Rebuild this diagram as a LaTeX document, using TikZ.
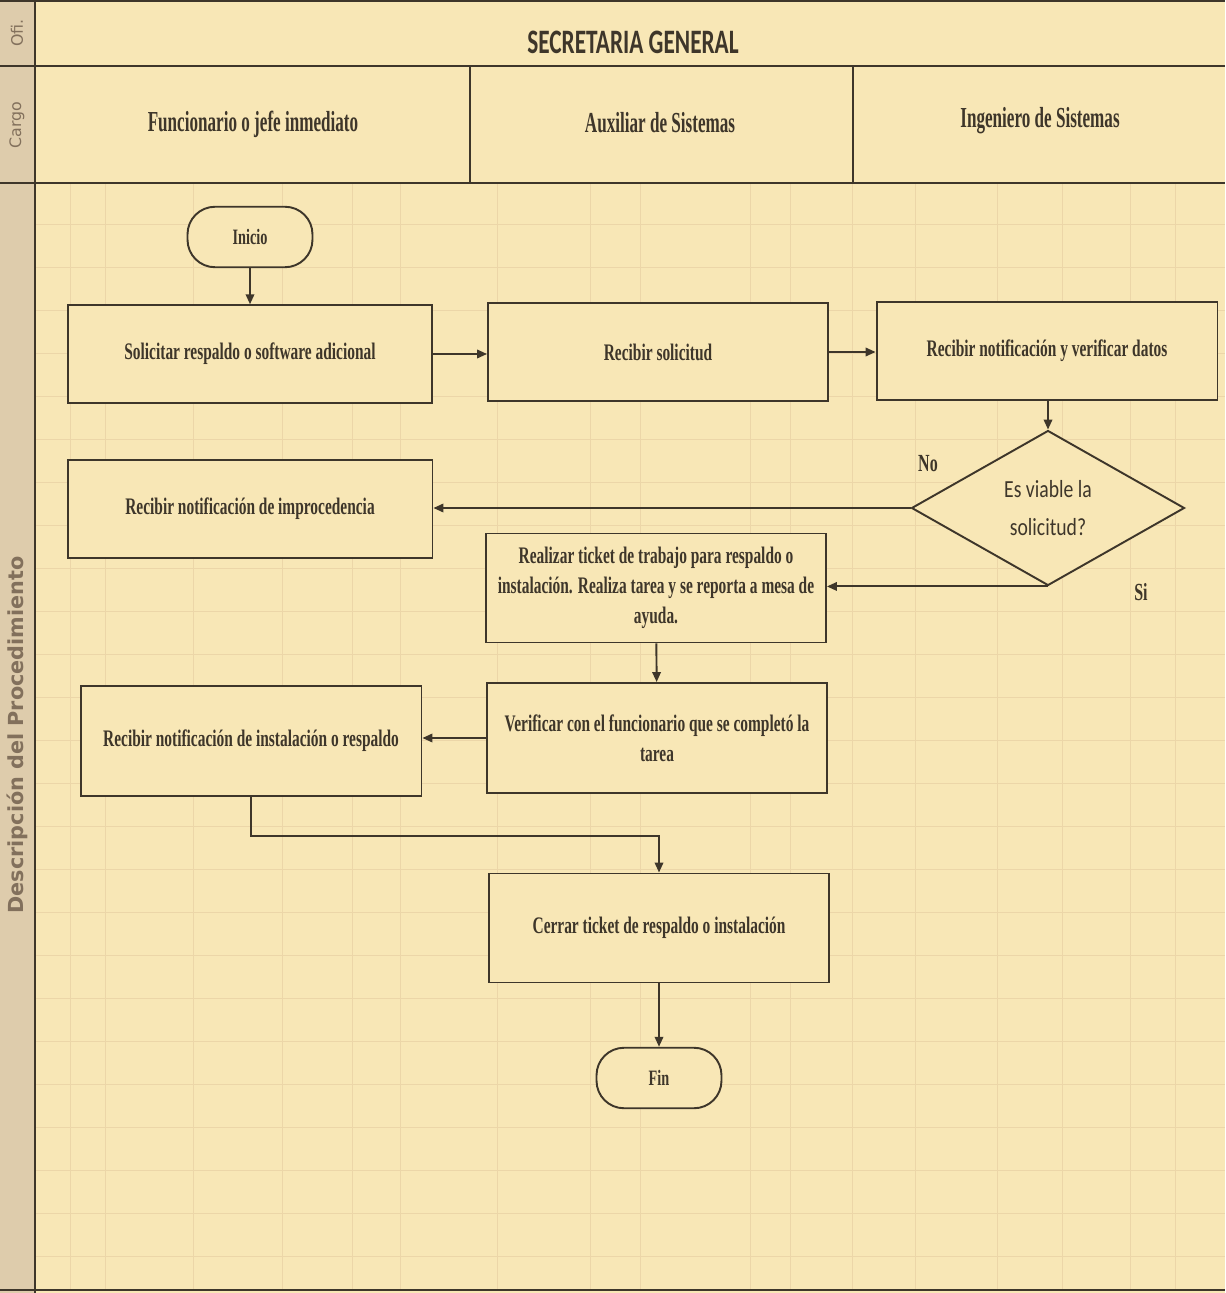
\documentclass[tikz,border=0pt]{standalone}
\usepackage{fontspec}
\usetikzlibrary{shapes.geometric,arrows.meta}
\setmainfont{Liberation Serif}
\newfontfamily\condserif[FakeStretch=0.65]{Liberation Serif}
\newfontfamily\headserif[FakeStretch=0.59]{Liberation Serif}
\newfontfamily\diafont[FakeStretch=0.8]{Carlito}
\newfontfamily\titlefont[FakeStretch=0.68]{Carlito}
\newfontfamily\sidefont{DejaVu Sans}

\definecolor{papel}{RGB}{248,231,182}
\definecolor{columna}{RGB}{222,204,172}
\definecolor{rejilla}{RGB}{236,214,168}
\definecolor{trazo}{RGB}{62,54,42}
\definecolor{lateral}{RGB}{130,112,92}

\tikzset{
  caja/.style={draw=trazo, line width=1.1pt, fill=papel, minimum width=6.8cm,
    minimum height=1.95cm, align=center, text=trazo,
    font=\condserif\bfseries\fontsize{13.5}{17}\selectfont},
  terminal/.style={draw=trazo, line width=1.1pt, fill=papel, rounded corners=0.55cm,
    minimum width=2.5cm, minimum height=1.21cm, text=trazo,
    font=\condserif\bfseries\fontsize{12.5}{14}\selectfont},
  decision/.style={diamond, draw=trazo, line width=1.1pt, fill=papel,
    minimum width=5.46cm, minimum height=3.1cm, inner sep=0pt, align=center,
    text=trazo, font=\diafont\fontsize{14}{21.5}\selectfont},
  flecha/.style={draw=trazo, line width=1.1pt, -{Triangle[length=0.2cm,width=0.17cm]}},
  cargo/.style={text=trazo, font=\headserif\bfseries\fontsize{16.5}{19}\selectfont},
  lado/.style={rotate=90, text=lateral, font=\sidefont\fontsize{9}{11}\selectfont},
  rotulo/.style={text=trazo, font=\condserif\bfseries\fontsize{14}{16}\selectfont}
}

\begin{document}
\begin{tikzpicture}[x=0.02cm, y=-0.02cm]
	\useasboundingbox (0,0) rectangle (1225,1293);
	% fondo y rejilla
	\fill[papel] (0,0) rectangle (1225,1293);
	\fill[columna] (0,0) rectangle (35,1293);
	\foreach \y in {224,267,...,1256}
		\draw[rejilla, line width=0.5pt] (35,\y)--(1225,\y);
	\foreach \x in {70,105,193,282,352,400,497,590,640,750,790,852,915,997,1062,1130,1175}
		\draw[rejilla, line width=0.5pt] (\x,183)--(\x,1290);

	% marco
	\draw[trazo, line width=1.4pt] (0,1)--(1225,1);
	\draw[trazo, line width=1.4pt] (0,66)--(1225,66);
	\draw[trazo, line width=1.4pt] (0,183)--(1225,183);
	\draw[trazo, line width=1.4pt] (0,1290)--(1225,1290);
	\draw[trazo, line width=1.4pt] (35,0)--(35,1293);
	\draw[trazo, line width=0.8pt] (470,66)--(470,183);
	\draw[trazo, line width=0.8pt] (853,66)--(853,183);

	% encabezados
	\node[lado] (ofi) at (17,33) {Ofi.};
	\node[lado] (carg) at (17,125) {Cargo};
	\node[lado, font=\sidefont\bfseries\fontsize{11.8}{13}\selectfont] (desc) at (17,735) {Descripción del Procedimiento};
	\node[text=trazo, font=\titlefont\bfseries\fontsize{19.5}{22}\selectfont] (secre) at (633,42) {SECRETARIA GENERAL};
	\node[cargo] (func) at (253,124) {Funcionario o jefe inmediato};
	\node[cargo] (aux) at (660,123) {Auxiliar de Sistemas};
	\node[cargo] (ing) at (1040,121) {Ingeniero de Sistemas};

	% flujo
	\node[terminal] (inicio) at (250,237) {Inicio};
	\node[caja, minimum width=7.28cm] (solicitar) at (250,354) {Solicitar respaldo o software adicional};
	\node[caja] (recibir) at (658,352) {Recibir solicitud};
	\node[caja, minimum width=6.82cm] (verdatos) at (1047,351) {Recibir notificación y verificar datos};
	\node[decision] (viable) at (1048,508) {Es viable la\\solicitud?};
	\node[caja, minimum width=7.3cm] (improc) at (250,509) {Recibir notificación de improcedencia};
	\node[caja, minimum height=2.18cm] (ticket) at (656,588) {Realizar ticket de trabajo para respaldo o\\instalación. Realiza tarea y se reporta a mesa de\\ayuda.};
	\node[caja, minimum height=2.2cm] (verificar) at (657,738) {Verificar con el funcionario que se completó la\\tarea};
	\node[caja, minimum width=6.82cm, minimum height=2.2cm] (instal) at (251,741) {Recibir notificación de instalación o respaldo};
	\node[caja, minimum height=2.18cm] (cerrar) at (659,928) {Cerrar ticket de respaldo o instalación};
	\node[terminal] (fin) at (659,1078) {Fin};
	\node[rotulo] (no) at (928,464) {No};
	\node[rotulo] (si) at (1141,592) {Si};

	\draw[flecha] (inicio) -- (solicitar);
	\draw[flecha] (solicitar.east) -- (solicitar.east -| recibir.west);
	\draw[flecha] (recibir.east) -- (recibir.east -| verdatos.west);
	\draw[flecha] (verdatos.south) -- (verdatos.south -| viable.north) -- (viable.north);
	\draw[flecha] (viable.west) -- (viable.west -| improc.east);
	\draw[flecha] (viable.south) -- (viable.south -| ticket.east);
	\draw[flecha] (ticket) -- (verificar);
	\draw[flecha] (verificar.west) -- (verificar.west -| instal.east);
	\draw[flecha] (instal.south) -- ++(0,39) -| (cerrar.north);
	\draw[flecha] (cerrar) -- (fin);
\end{tikzpicture}
\end{document}
